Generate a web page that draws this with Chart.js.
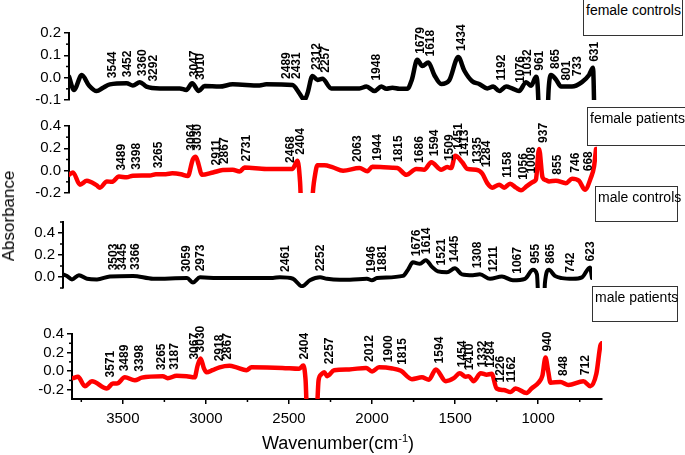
<!DOCTYPE html>
<html>
<head>
<meta charset="utf-8">
<script src="https://cdn.jsdelivr.net/npm/chart.js@4.4.0/dist/chart.umd.min.js"></script>
<style>
  body { margin: 0; background: #fff; }
  #wrap { position: relative; width: 685px; height: 455px; overflow: hidden; font-family: "Liberation Sans", Arial, sans-serif; }
  .pane { position: absolute; left: 0; width: 685px; }
  .box { position: absolute; border: 1px solid #333; background: #fff; font-size: 14px; line-height: 16px; padding: 2px 0 0 2px; box-sizing: border-box; color: #000; white-space: nowrap; }
  #ytitle { position: absolute; left: 9px; top: 216px; transform: translate(-50%, -50%) rotate(-90deg); font-size: 17px; white-space: nowrap; }
  #xtitle { position: absolute; left: 338px; top: 443px; transform: translate(-50%, -50%); font-size: 18px; white-space: nowrap; }
  #xtitle sup { font-size: 11px; }
</style>
</head>
<body>
<div id="wrap">
  <div class="pane" style="top:0px;height:112px"><canvas id="c1" width="685" height="112"></canvas></div>
  <div class="pane" style="top:112px;height:93px"><canvas id="c2" width="685" height="93"></canvas></div>
  <div class="pane" style="top:205px;height:95px"><canvas id="c3" width="685" height="95"></canvas></div>
  <div class="pane" style="top:322px;height:133px"><canvas id="c4" width="685" height="133"></canvas></div>
  <div class="box" style="left:583px;top:-1px;width:100px;height:37px">female controls</div>
  <div class="box" style="left:587px;top:107px;width:100px;height:39px">female patients</div>
  <div class="box" style="left:595px;top:186px;width:83px;height:36px">male controls</div>
  <div class="box" style="left:592px;top:286px;width:86px;height:36px">male patients</div>
  <div id="ytitle">Absorbance</div>
  <div id="xtitle">Wavenumber(cm<sup>-1</sup>)</div>
</div>
<script>
// wavenumber range shared by all panels
var wnMin = 616;
var wnMax = 3806;
var wnTicks = [3500, 3000, 2500, 2000, 1500, 1000];

// female controls
var fcWn = [3806, 3776, 3729, 3685, 3639, 3600, 3559, 3458, 3420, 3378, 3338, 3257, 3137, 3097, 3062, 3022, 2986, 2896, 2817, 2655, 2614, 2456, 2414, 2383, 2365, 2335, 2305, 2275, 2221, 2112, 2051, 2009, 1961, 1919, 1889, 1852, 1810, 1762, 1735, 1702, 1671, 1635, 1599, 1557, 1509, 1454, 1418, 1370, 1328, 1279, 1243, 1207, 1165, 1129, 1087, 1044, 1014, 984, 975, 955, 925, 908, 894, 864, 833, 767, 707, 664, 640, 628, 616];
var fcAbs = [0.005, -0.055, 0.012, -0.035, -0.06, -0.045, -0.03, -0.025, -0.035, -0.02, -0.04, -0.048, -0.048, -0.055, -0.025, -0.06, -0.037, -0.04, -0.03, -0.035, -0.03, -0.033, -0.07, -0.1, -0.07, 0.008, -0.01, -0.005, -0.048, -0.048, -0.048, -0.04, -0.06, -0.04, -0.05, -0.045, -0.05, -0.05, -0.01, 0.08, 0.052, 0.068, 0.012, -0.028, -0.012, 0.092, 0.032, -0.016, -0.028, -0.048, -0.04, -0.06, -0.04, -0.048, -0.06, -0.02, -0.036, 0.004, -0.03, -0.35, -0.35, -0.05, 0.012, -0.008, -0.04, -0.04, -0.02, 0.012, 0.044, -0.3, -0.4];
var fcPeaks = [3544, 3452, 3360, 3292, 3047, 3010, 2489, 2431, 2312, 2257, 1948, 1679, 1618, 1434, 1192, 1076, 1032, 961, 865, 801, 733, 631];
var fcTicks = [-0.1, 0.0, 0.1, 0.2];

// female patients
var fpWn = [3806, 3782, 3740, 3698, 3640, 3619, 3577, 3547, 3504, 3458, 3420, 3318, 3281, 3221, 3182, 3130, 3088, 3058, 3040, 3022, 3004, 2936, 2877, 2817, 2775, 2745, 2614, 2456, 2425, 2410, 2400, 2345, 2330, 2323, 2305, 2263, 2215, 2150, 2051, 2003, 1973, 1852, 1822, 1768, 1708, 1660, 1617, 1557, 1521, 1497, 1473, 1430, 1400, 1346, 1310, 1279, 1249, 1207, 1177, 1141, 1105, 1075, 1038, 996, 985, 966, 945, 924, 906, 864, 804, 767, 725, 689, 652, 634, 622];
var fpAbs = [-0.037, -0.016, -0.125, -0.09, -0.13, -0.152, -0.096, -0.1, -0.053, -0.06, -0.045, -0.043, -0.032, -0.032, -0.024, -0.032, -0.048, 0.1, 0.125, 0.05, -0.037, -0.016, 0.005, 0.008, -0.008, 0.028, 0.016, 0.016, 0.088, -0.1, -0.4, -0.4, -0.15, -0.072, 0.048, 0.048, 0.032, 0.0, 0.024, -0.005, 0.035, 0.027, 0.024, -0.037, 0.016, 0.008, 0.075, 0.008, 0.032, 0.024, 0.133, 0.075, 0.016, 0.008, -0.024, -0.112, -0.152, -0.125, -0.152, -0.117, -0.152, -0.176, -0.136, -0.096, -0.08, 0.195, -0.06, -0.085, -0.096, -0.09, -0.112, -0.072, -0.09, -0.17, -0.059, 0.035, 0.195];
var fpPeaks = [3489, 3398, 3265, 3064, 3030, 2911, 2867, 2731, 2468, 2404, 2063, 1944, 1815, 1686, 1594, 1509, 1451, 1413, 1335, 1284, 1158, 1056, 1008, 937, 855, 746, 668];
var fpTicks = [-0.2, 0.0, 0.2, 0.4];

// male controls
var mcWn = [3806, 3782, 3752, 3710, 3661, 3601, 3523, 3384, 3263, 3058, 3022, 2980, 2877, 2540, 2498, 2419, 2365, 2317, 2256, 2214, 2136, 2076, 1973, 1943, 1913, 1756, 1726, 1696, 1654, 1618, 1581, 1545, 1491, 1443, 1400, 1334, 1292, 1231, 1159, 1093, 1020, 972, 948, 936, 906, 900, 876, 840, 797, 731, 677, 628, 616];
var mcAbs = [0.024, 0.01, -0.022, 0.016, -0.016, -0.022, 0.005, 0.01, -0.016, -0.01, -0.05, -0.003, -0.01, -0.008, -0.003, -0.016, -0.084, -0.03, -0.003, -0.016, -0.024, -0.024, -0.016, -0.03, -0.01, 0.01, 0.065, 0.133, 0.12, 0.153, 0.092, 0.051, 0.043, 0.079, 0.024, 0.016, 0.024, -0.016, 0.005, -0.03, -0.016, 0.065, 0.024, -0.3, -0.3, -0.057, 0.065, 0.01, -0.01, -0.016, -0.003, 0.087, -0.01];
var mcPeaks = [3503, 3445, 3366, 3059, 2973, 2461, 2252, 1946, 1881, 1676, 1614, 1521, 1445, 1308, 1211, 1067, 955, 865, 742, 623];
var mcTicks = [0.0, 0.2, 0.4];

// male patients
var mpWn = [3800, 3770, 3728, 3686, 3596, 3560, 3536, 3488, 3428, 3386, 3260, 3230, 3176, 3116, 3068, 3050, 3032, 3012, 2996, 2960, 2918, 2858, 2816, 2756, 2726, 2540, 2438, 2414, 2400, 2390, 2335, 2322, 2306, 2288, 2270, 2228, 2138, 2036, 2000, 1958, 1878, 1826, 1760, 1700, 1658, 1616, 1556, 1508, 1472, 1436, 1418, 1388, 1346, 1310, 1280, 1250, 1208, 1166, 1136, 1070, 1040, 998, 975, 956, 940, 926, 866, 818, 728, 686, 650, 626, 618];
var mpAbs = [-0.076, -0.06, -0.162, -0.108, -0.187, -0.133, -0.133, -0.067, -0.098, -0.07, -0.054, -0.076, -0.05, -0.054, -0.067, 0.06, 0.137, 0.03, -0.013, 0.01, 0.041, 0.057, 0.041, 0.01, 0.041, 0.035, 0.025, 0.06, -0.1, -0.5, -0.5, -0.1, -0.035, -0.013, -0.054, 0.01, 0.019, 0.035, -0.003, 0.041, 0.029, 0.003, -0.086, -0.067, -0.092, 0.019, -0.108, -0.076, -0.022, -0.06, -0.054, -0.108, -0.022, -0.038, -0.029, -0.187, -0.203, -0.225, -0.187, -0.235, -0.187, -0.124, -0.05, 0.146, 0.0, -0.124, -0.117, -0.149, -0.108, -0.162, -0.029, 0.273, 0.3];
var mpPeaks = [3571, 3489, 3398, 3265, 3187, 3067, 3030, 2918, 2867, 2404, 2257, 2012, 1900, 1815, 1594, 1454, 1410, 1332, 1284, 1226, 1162, 940, 848, 712];
var mpTicks = [-0.2, 0.0, 0.2, 0.4];

var fontFam = '"Liberation Sans", Arial, sans-serif';

// rotated peak labels sitting just above the curve
var peakLabels = {
    id: 'peakLabels',
    afterDatasetsDraw: function (chart) {
        var peaks = chart.options.plugins.peakLabels.list;
        var pts = chart.data.datasets[0].data;
        var xs = chart.scales.x, ys = chart.scales.y;
        var ctx = chart.ctx;
        ctx.save();
        ctx.font = 'bold 12px ' + fontFam;
        ctx.fillStyle = '#000';
        ctx.textAlign = 'left';
        ctx.textBaseline = 'middle';
        peaks.forEach(function (w) {
            var best = -Infinity;
            for (var i = 0; i < pts.length; i++) {
                if (Math.abs(pts[i].x - w) <= 30) best = Math.max(best, pts[i].y);
                if (i > 0 && pts[i - 1].x >= w && pts[i].x <= w) {
                    var t = (pts[i - 1].x - w) / (pts[i - 1].x - pts[i].x);
                    best = Math.max(best, pts[i - 1].y + t * (pts[i].y - pts[i - 1].y));
                }
            }
            var px = xs.getPixelForValue(w);
            var py = Math.min(ys.getPixelForValue(best), ys.bottom) - 6;
            ctx.save();
            ctx.translate(px, py);
            ctx.rotate(-Math.PI / 2);
            ctx.fillText(String(w), 0, 0);
            ctx.restore();
        });
        ctx.restore();
    }
};

// short minor ticks between the major ones
var minorTicks = {
    id: 'minorTicks',
    afterDraw: function (chart) {
        var ctx = chart.ctx;
        ctx.save();
        ctx.strokeStyle = '#000';
        ctx.lineWidth = 1.5;
        Object.keys(chart.scales).forEach(function (k) {
            var s = chart.scales[k];
            if (!s.options.display || s.ticks.length < 2) return;
            var vals = s.ticks.map(function (t) { return t.value; }).sort(function (a, b) { return a - b; });
            var step = vals[1] - vals[0];
            for (var j = -1; j < vals.length; j++) {
                var v = vals[0] + (j + 0.5) * step;
                if (v < s.min || v > s.max) continue;
                var p = s.getPixelForValue(v);
                ctx.beginPath();
                if (s.isHorizontal()) {
                    ctx.moveTo(p, s.top);
                    ctx.lineTo(p, s.top + 3);
                } else {
                    ctx.moveTo(s.right, p);
                    ctx.lineTo(s.right - 3, p);
                }
                ctx.stroke();
            }
        });
        ctx.restore();
    }
};

function pairs(wn, ab) {
    var out = [];
    for (var i = 0; i < wn.length; i++) out.push({ x: wn[i], y: ab[i] });
    return out;
}

function setTicks(list) {
    return function (s) {
        s.ticks = list.map(function (v) { return { value: v }; });
    };
}

function makePanel(id, wn, ab, peaks, yTicks, color, width, yMin, yMax, left, right, padTop, padBottom, showX) {
    var xOpts = {
        type: 'linear',
        reverse: true,
        min: wnMin,
        max: wnMax,
        display: showX,
        afterBuildTicks: setTicks(wnTicks),
        border: { display: true, color: '#000', width: 2 },
        grid: { drawOnChartArea: false, drawTicks: true, tickLength: 5, color: '#000', lineWidth: 1.5 },
        ticks: {
            autoSkip: false,
            padding: 6,
            maxRotation: 0,
            color: '#000',
            font: { size: 15, family: fontFam },
            callback: function (v) { return String(v); }
        }
    };
    if (showX) xOpts.afterFit = function (s) { s.height = 56; };
    return new Chart(document.getElementById(id), {
        type: 'line',
        data: {
            datasets: [{
                data: pairs(wn, ab),
                borderColor: color,
                borderWidth: width,
                pointRadius: 0,
                fill: false,
                cubicInterpolationMode: 'monotone',
                borderJoinStyle: 'round',
                borderCapStyle: 'round'
            }]
        },
        options: {
            responsive: false,
            animation: false,
            layout: { padding: { left: 0, right: 685 - right, top: padTop, bottom: padBottom } },
            plugins: {
                legend: { display: false },
                tooltip: { enabled: false },
                peakLabels: { list: peaks }
            },
            scales: {
                x: xOpts,
                y: {
                    min: yMin,
                    max: yMax,
                    afterFit: function (s) { s.width = left; },
                    afterBuildTicks: setTicks(yTicks),
                    border: { display: true, color: '#000', width: 2 },
                    grid: { drawOnChartArea: false, drawTicks: true, tickLength: 5, color: '#000', lineWidth: 1.5 },
                    ticks: {
                        autoSkip: false,
                        padding: 3,
                        color: '#000',
                        font: { size: 15, family: fontFam },
                        callback: function (v) { return v.toFixed(1); }
                    }
                }
            }
        },
        plugins: [peakLabels, minorTicks]
    });
}

makePanel('c1', fcWn, fcAbs, fcPeaks, fcTicks, '#000000', 4.5, -0.1, 0.2, 69, 597, 33, 4, false);
makePanel('c2', fpWn, fpAbs, fpPeaks, fpTicks, '#ff0000', 4.5, -0.2, 0.4, 69, 597, 14, 5, false);
makePanel('c3', mcWn, mcAbs, mcPeaks, mcTicks, '#000000', 4, -0.1, 0.5, 63, 592, 17, 5, false);
makePanel('c4', mpWn, mpAbs, mpPeaks, mpTicks, '#ff0000', 4.5, -0.3, 0.4, 72, 602, 3, 0, true);
</script>
</body>
</html>
